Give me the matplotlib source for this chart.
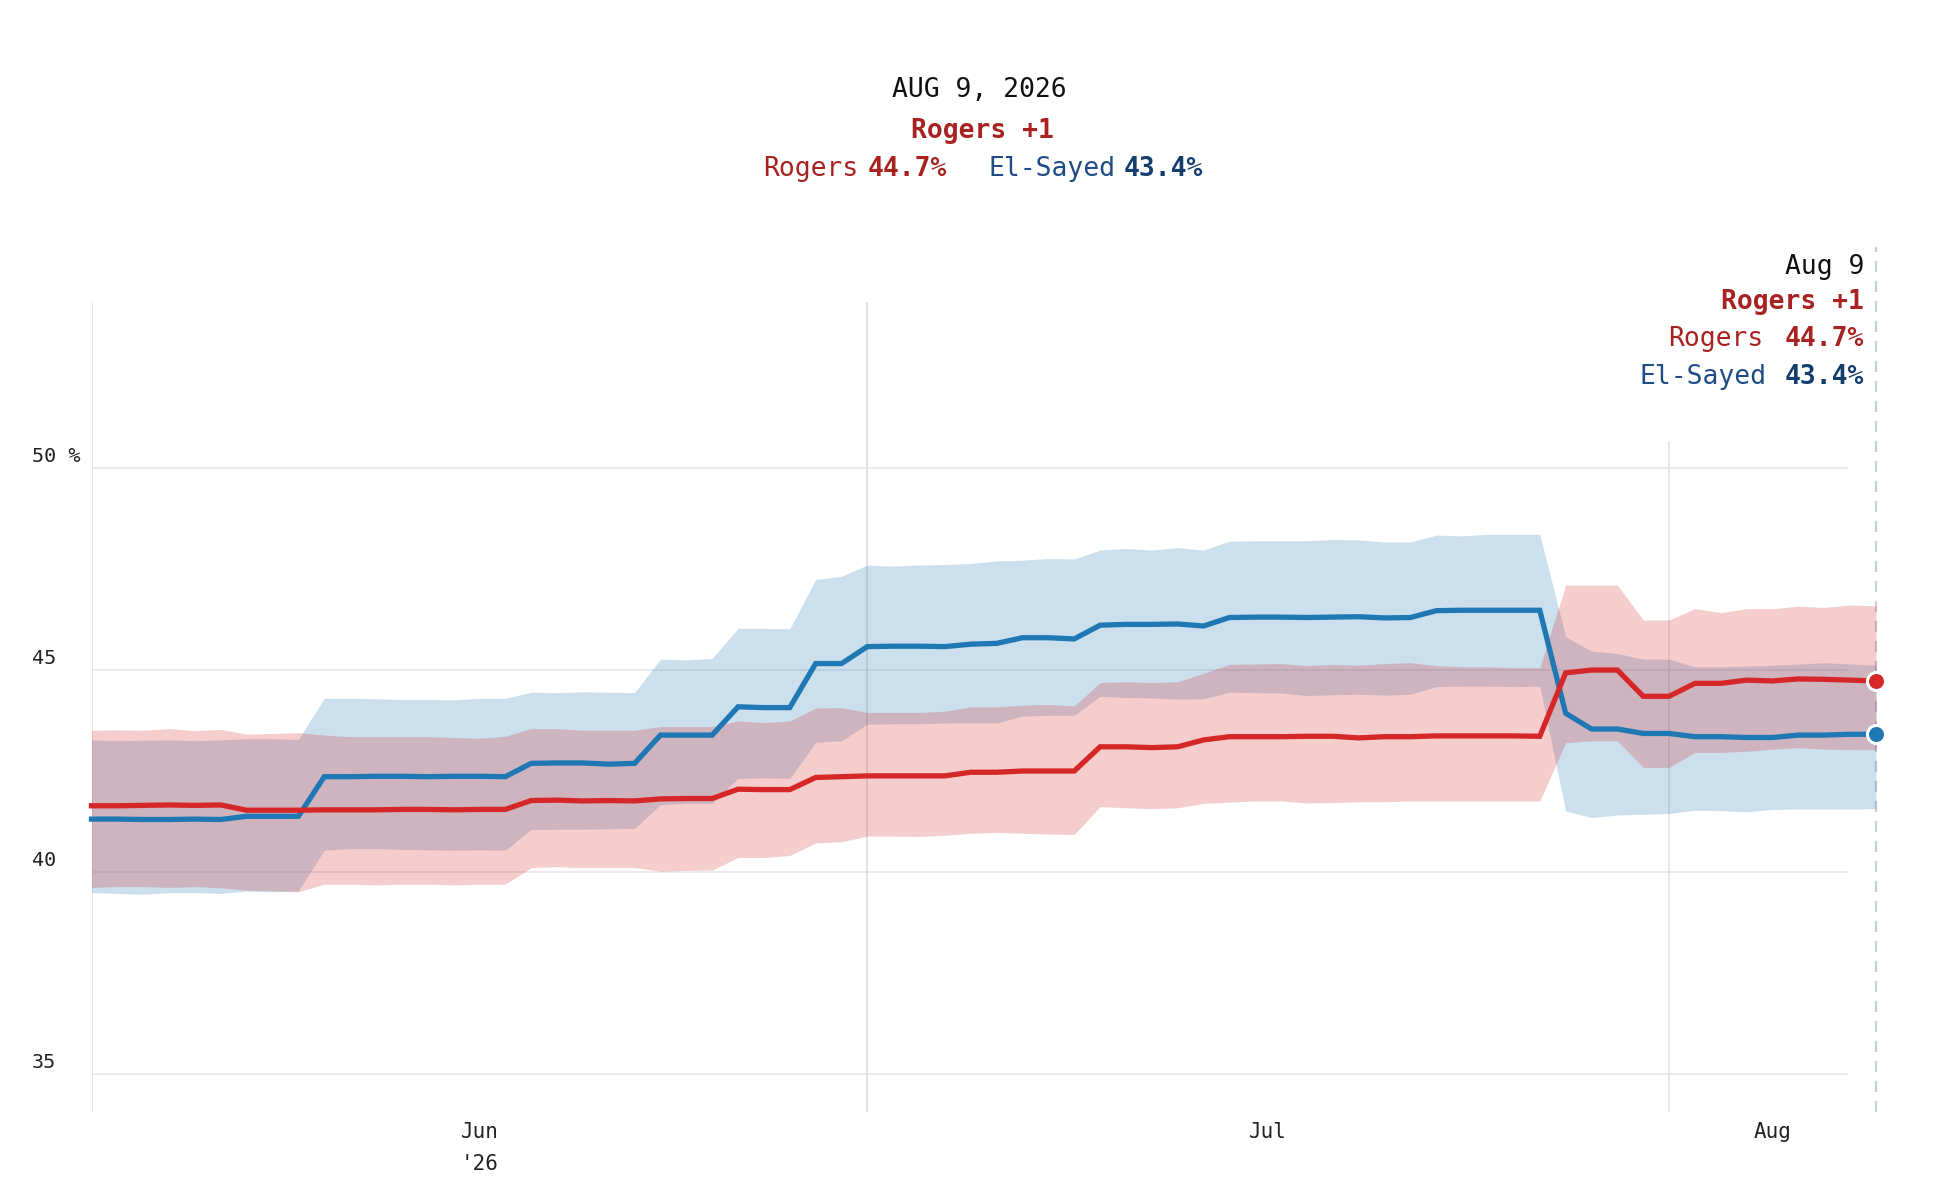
import matplotlib.pyplot as plt
import matplotlib.transforms as mtransforms
import numpy as np

# daily points, Jun 1 (day 0) .. Aug 9 (day 69)
days = np.arange(70)

rogers = [41.65, 41.65, 41.66, 41.67, 41.66, 41.67, 41.54, 41.54, 41.54, 41.55,
          41.55, 41.55, 41.56, 41.56, 41.55, 41.56, 41.56, 41.78, 41.79, 41.77,
          41.78, 41.77, 41.82, 41.83, 41.83, 42.06, 42.05, 42.05, 42.35, 42.37,
          42.39, 42.39, 42.39, 42.39, 42.48, 42.48, 42.51, 42.51, 42.51, 43.11,
          43.11, 43.09, 43.11, 43.28, 43.36, 43.36, 43.36, 43.37, 43.37, 43.33,
          43.36, 43.36, 43.38, 43.38, 43.38, 43.38, 43.37, 44.94, 45.01, 45.01,
          44.36, 44.36, 44.68, 44.68, 44.76, 44.74, 44.79, 44.78, 44.76, 44.74]
rogers_hi = [43.52, 43.53, 43.52, 43.56, 43.51, 43.54, 43.42, 43.44, 43.46, 43.40,
             43.36, 43.36, 43.36, 43.36, 43.34, 43.32, 43.37, 43.56, 43.56, 43.52,
             43.52, 43.52, 43.61, 43.61, 43.61, 43.75, 43.71, 43.75, 44.07, 44.08,
             43.96, 43.96, 43.96, 43.99, 44.10, 44.10, 44.14, 44.16, 44.12, 44.70,
             44.72, 44.70, 44.72, 44.93, 45.15, 45.16, 45.17, 45.12, 45.15, 45.13,
             45.17, 45.19, 45.12, 45.09, 45.09, 45.07, 45.07, 47.11, 47.11, 47.11,
             46.25, 46.25, 46.53, 46.43, 46.53, 46.53, 46.59, 46.56, 46.62, 46.60]
rogers_lo = [39.63, 39.65, 39.65, 39.63, 39.65, 39.62, 39.56, 39.55, 39.52, 39.71,
             39.71, 39.69, 39.71, 39.71, 39.69, 39.71, 39.71, 40.12, 40.14, 40.12,
             40.12, 40.12, 40.03, 40.05, 40.06, 40.37, 40.37, 40.42, 40.73, 40.76,
             40.90, 40.90, 40.89, 40.92, 40.97, 40.99, 40.97, 40.95, 40.94, 41.63,
             41.60, 41.58, 41.60, 41.71, 41.74, 41.77, 41.77, 41.72, 41.73, 41.75,
             41.75, 41.77, 41.77, 41.77, 41.77, 41.77, 41.77, 43.21, 43.26, 43.26,
             42.60, 42.60, 42.97, 42.97, 43.00, 43.05, 43.09, 43.05, 43.04, 43.04]

elsayed = [41.32, 41.32, 41.31, 41.31, 41.32, 41.31, 41.39, 41.39, 41.39, 42.37,
           42.37, 42.38, 42.38, 42.37, 42.38, 42.38, 42.37, 42.70, 42.71, 42.71,
           42.68, 42.70, 43.40, 43.40, 43.40, 44.10, 44.08, 44.08, 45.17, 45.17,
           45.59, 45.60, 45.60, 45.59, 45.65, 45.67, 45.81, 45.81, 45.78, 46.12,
           46.14, 46.14, 46.15, 46.10, 46.31, 46.32, 46.32, 46.31, 46.32, 46.33,
           46.30, 46.31, 46.48, 46.49, 46.49, 46.49, 46.49, 43.94, 43.55, 43.55,
           43.44, 43.44, 43.36, 43.36, 43.34, 43.34, 43.40, 43.40, 43.42, 43.42]
elsayed_hi = [43.28, 43.26, 43.27, 43.28, 43.26, 43.28, 43.31, 43.31, 43.29, 44.31,
              44.31, 44.30, 44.28, 44.28, 44.27, 44.31, 44.31, 44.46, 44.45, 44.47,
              44.46, 44.45, 45.28, 45.26, 45.30, 46.04, 46.04, 46.03, 47.25, 47.33,
              47.61, 47.58, 47.61, 47.62, 47.65, 47.71, 47.73, 47.77, 47.76, 47.98,
              48.02, 47.98, 48.04, 47.98, 48.20, 48.21, 48.21, 48.21, 48.24, 48.23,
              48.18, 48.18, 48.35, 48.33, 48.37, 48.37, 48.37, 45.83, 45.48, 45.42,
              45.28, 45.28, 45.09, 45.09, 45.11, 45.13, 45.16, 45.19, 45.16, 45.13]
elsayed_lo = [39.50, 39.48, 39.46, 39.50, 39.50, 39.48, 39.54, 39.52, 39.54, 40.55,
              40.59, 40.59, 40.57, 40.56, 40.55, 40.56, 40.55, 41.06, 41.07, 41.07,
              41.08, 41.09, 41.68, 41.71, 41.71, 42.33, 42.34, 42.33, 43.22, 43.26,
              43.67, 43.68, 43.68, 43.70, 43.70, 43.70, 43.87, 43.89, 43.89, 44.36,
              44.33, 44.32, 44.29, 44.30, 44.46, 44.45, 44.44, 44.38, 44.40, 44.41,
              44.39, 44.41, 44.60, 44.61, 44.61, 44.60, 44.61, 41.52, 41.36, 41.42,
              41.44, 41.46, 41.54, 41.53, 41.50, 41.56, 41.57, 41.57, 41.57, 41.58]

month_starts = [0, 30, 61]
month_mids = [15, 45.5, 65]
month_labels = ["Jun", "Jul", "Aug"]
y_grid = [35, 40, 45, 50]
y_labels = ["35", "40", "45", "50 %"]

RED = "#d62728"
BLUE = "#1f77b4"
RED_TXT = "#a82222"
BLUE_TXT = "#1d4d84"
BLUE_BOLD = "#133d6c"
MONO = "DejaVu Sans Mono"

plt.rcParams['font.family'] = MONO

W, H = 1938, 1194
fig = plt.figure(figsize=(W / 100, H / 100), dpi=100)
x0, x1 = 91.5, 1876
y_top, y_bot = 301.6, 1112
ax = fig.add_axes([x0 / W, 1 - y_bot / H, (x1 - x0) / W, (y_bot - y_top) / H])
ax.set_xlim(0, 69)
ax.set_ylim(34.07, 54.13)
for s in ax.spines.values():
    s.set_visible(False)

# grid
for v in y_grid:
    ax.axhline(v, xmin=0, xmax=0.9835, color="#e8e8ec", lw=1.2, zorder=0)
ax.axvline(month_starts[0], color="#e3e3e8", lw=1.2, zorder=0)
ax.axvline(month_starts[1], color="#dcdce2", lw=1.2, zorder=0)
ax.plot([month_starts[2]] * 2, [34.07, 50.65], color="#e3e3e8", lw=1.2, zorder=0)
ax.plot([69, 69], [34.07, 55.48], color="#c8d0dc", lw=1.6, ls=(0, (5, 4)),
        clip_on=False, zorder=1)

# bands
ax.fill_between(days, elsayed_lo, elsayed_hi, color=BLUE, alpha=0.23, lw=0, zorder=2)
ax.fill_between(days, rogers_lo, rogers_hi, color=RED, alpha=0.23, lw=0, zorder=3)

# lines
ax.plot(days, elsayed, color=BLUE, lw=3.8, zorder=4, clip_on=False, solid_joinstyle='miter')
ax.plot(days, rogers, color=RED, lw=3.8, zorder=5, clip_on=False, solid_joinstyle='miter')
ax.plot(days[-1], rogers[-1], 'o', ms=13, color=RED, mec='white', mew=2.2,
        zorder=6, clip_on=False)
ax.plot(days[-1], elsayed[-1], 'o', ms=13, color=BLUE, mec='white', mew=2.2,
        zorder=6, clip_on=False)

# x labels
ax.set_yticks([])
ax.set_xticks(month_mids)
ax.set_xticklabels(month_labels, fontsize=15, color="#222222")
ax.tick_params(axis='x', length=0, pad=7)
tr = mtransforms.blended_transform_factory(ax.transData, ax.transAxes)
ax.text(month_mids[0], -0.064, "'26", transform=tr, ha='center', va='center',
        fontsize=15, color="#222222")

# y labels
tr_y = mtransforms.blended_transform_factory(fig.transFigure, ax.transData)
for v, lab in zip(y_grid, y_labels):
    ax.text(32 / W, v + 0.16, lab, transform=tr_y, ha='left', va='baseline',
            fontsize=14.5, color="#222222")

# header
fs = 19
fig.text(979 / W, 1 - 97 / H, "AUG 9, 2026", ha='center', va='baseline',
         fontsize=fs, color="#111111")
fig.text(982 / W, 1 - 138 / H, "Rogers +1", ha='center', va='baseline',
         fontsize=fs, color=RED_TXT, fontweight='bold')
yb = 1 - 176.5 / H
fig.text(763 / W, yb, "Rogers", ha='left', va='baseline', fontsize=fs, color=RED_TXT)
fig.text(867.7 / W, yb, "44.7%", ha='left', va='baseline', fontsize=fs,
         color=RED_TXT, fontweight='bold')
fig.text(988.4 / W, yb, "El-Sayed", ha='left', va='baseline', fontsize=fs, color=BLUE_TXT)
fig.text(1123.9 / W, yb, "43.4%", ha='left', va='baseline', fontsize=fs,
         color=BLUE_BOLD, fontweight='bold')

# end-of-line annotation
xr = 1864 / W
fig.text(xr, 1 - 274 / H, "Aug 9", ha='right', va='baseline', fontsize=fs, color="#111111")
fig.text(xr, 1 - 309 / H, "Rogers +1", ha='right', va='baseline', fontsize=fs,
         color=RED_TXT, fontweight='bold')
fig.text(xr, 1 - 346 / H, "44.7%", ha='right', va='baseline', fontsize=fs,
         color=RED_TXT, fontweight='bold')
fig.text(1763 / W, 1 - 346 / H, "Rogers", ha='right', va='baseline', fontsize=fs,
         color=RED_TXT)
fig.text(xr, 1 - 384.5 / H, "43.4%", ha='right', va='baseline', fontsize=fs,
         color=BLUE_BOLD, fontweight='bold')
fig.text(1767 / W, 1 - 384.5 / H, "El-Sayed", ha='right', va='baseline', fontsize=fs,
         color=BLUE_TXT)

fig.savefig("out.png", dpi=100, facecolor="white")
